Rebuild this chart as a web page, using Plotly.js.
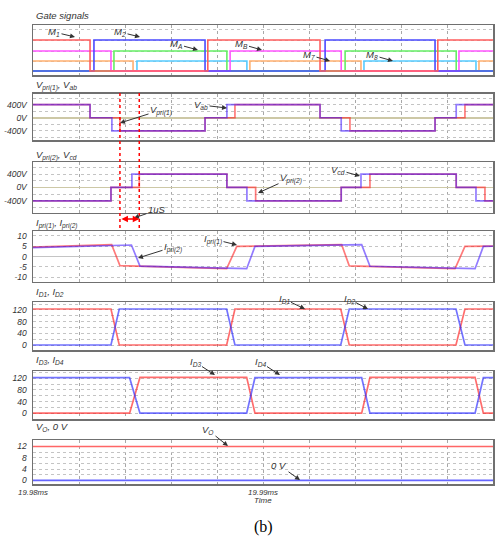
<!DOCTYPE html>
<html><head><meta charset="utf-8">
<script src="https://cdn.plot.ly/plotly-3.0.1.min.js"></script>
<style>html,body{margin:0;padding:0;background:#fff}#c{width:500px;height:538px}</style>
</head><body><div id="c"></div>
<script>
// ---- data (time in µs after 19.98 ms) ----
const timeTickVals = [0, 10, 20];
const timeTickText = ['19.98ms', '19.99ms', '20ms'];

// gate signals: transition times and logic states (hv steps)
const m1T = [0, 2.48, 7.6, 12.48, 17.6, 20];   const m1S = [1,0,1,0,1,1];
const m2T = [0, 2.65, 7.48, 12.7, 17.48, 20];  const m2S = [0,1,0,1,0,0];
const mAT = [0, 3.39, 8.57, 13.4, 18.52, 20];  const mAS = [1,0,1,0,1,1];
const mBT = [0, 3.52, 8.43, 13.57, 18.4, 20];  const mBS = [0,1,0,1,0,0];
const m7T = [0, 4.35, 9.43, 14.26, 19.39, 20]; const m7S = [1,0,1,0,1,1];
const m8T = [0, 4.52, 9.3, 14.39, 19.26, 20];  const m8S = [0,1,0,1,0,0];

// Vab and Vpri(1)
const vabT = [0, 2.48, 3.43, 7.48, 8.43, 12.48, 13.4, 17.48, 18.4, 20];
const vabV = [400, 0, -400, 0, 400, 0, -400, 0, 400, 400];
const vp1T = [0, 2.48, 3.78, 7.48, 8.78, 12.48, 13.78, 17.48, 18.78, 20];
const vp1V = [400, 0, -400, 0, 400, 0, -400, 0, 400, 400];

// Vcd and Vpri(2)
const vcdT = [0, 3.39, 4.3, 8.43, 9.3, 13.4, 14.26, 18.4, 19.26, 20];
const vcdV = [-400, 0, 400, 0, -400, 0, 400, 0, -400, -400];
const vp2T = [0, 3.39, 4.62, 8.43, 9.68, 13.4, 14.65, 18.4, 19.65, 20];
const vp2V = [-400, 0, 400, 0, -400, 0, 400, 0, -400, -400];

// primary currents
const ip1T = [0, 3.42, 3.78, 8.42, 8.86, 13.42, 13.75, 18.35, 18.78, 20];
const ip1V = [4.6, 5.8, -4.4, -5.9, 4.9, 5.8, -4.5, -5.9, 4.9, 5.1];
const ip2T = [0, 3.42, 4.28, 4.65, 8.42, 9.29, 9.65, 13.42, 14.29, 14.65, 18.35, 19.22, 19.58, 20];
const ip2V = [4.3, 5.6, 5.6, -4.6, -5.9, -5.9, 4.9, 5.8, 5.8, -4.7, -5.9, -5.9, 4.9, 5.0];

// diode currents
const id12T = [0, 3.39, 3.75, 8.42, 8.78, 13.38, 13.75, 18.39, 18.78, 20];
const id1V = [123, 123, 0, 0, 123, 123, 0, 0, 123, 123];
const id2V = [0, 0, 123, 123, 0, 0, 123, 123, 0, 0];
const id34T = [0, 4.2, 4.65, 9.29, 9.65, 14.29, 14.65, 19.22, 19.58, 20];
const id3V = [0, 0, 123, 123, 0, 0, 123, 123, 0, 0];
const id4V = [122, 122, 0, 0, 122, 122, 0, 0, 122, 122];

// output voltage and 0 V reference
const voT = [0, 20]; const voV = [12, 12]; const zeroV = [0, 0];

// ---- layout helpers ----
const W = 500, H = 538;
const px = x => x / W, py = y => 1 - y / H;
const FONT = 'Liberation Sans, Arial, sans-serif';
const RED = 'rgba(255,20,20,0.56)', BLUE = 'rgba(60,20,255,0.56)';
const boxes = [[25,75],[93.5,140],[162,212.5],[231,281.7],[302,350],[371,419],[440,484]];

const traces = [];
function add(k, x, y, color, shape, w) {
  traces.push({x: x, y: y, xaxis: 'x'+(k===1?'':k), yaxis: 'y'+(k===1?'':k), type: 'scatter', mode: 'lines',
    line: {color: color, width: w || 1.7, shape: shape || 'linear'}, hoverinfo: 'skip', showlegend: false});
}
function gate(T, S, hi, color) { add(1, T, S.map(s => s ? hi : 0.8), color, 'hv', 1.6); }
gate(m8T, m8S, 2.8, '#55ccff');
gate(m7T, m7S, 2.8, '#ffb070');
gate(mBT, mBS, 4.8, '#66ee66');
gate(mAT, mAS, 4.8, '#ff55ff');
gate(m2T, m2S, 7, '#4a4aff');
gate(m1T, m1S, 7, '#ff5e5e');

add(2, vp1T, vp1V, RED, 'hv');
add(2, vabT, vabV, BLUE, 'hv');
add(3, vp2T, vp2V, RED, 'hv');
add(3, vcdT, vcdV, BLUE, 'hv');
add(4, ip1T, ip1V, RED);
add(4, ip2T, ip2V, BLUE);
add(5, id12T, id1V, 'rgba(255,30,30,0.65)');
add(5, id12T, id2V, 'rgba(40,40,255,0.65)');
add(6, id34T, id3V, 'rgba(255,30,30,0.65)');
add(6, id34T, id4V, 'rgba(40,40,255,0.65)');
add(7, voT, voV, '#ff6666');
add(7, voT, zeroV, '#6666ff');

const layout = {
  width: W, height: H, margin: {l:0, r:0, t:0, b:0},
  paper_bgcolor: '#fff', plot_bgcolor: '#fff', showlegend: false,
  font: {family: FONT, size: 9, color: '#333'},
  annotations: [], shapes: []
};
const tf = {family: FONT, size: 8.5, style: 'italic', color: '#333'};
const yCfg = [
  {range:[0,10], tickvals:[0.8,2.8,4.8,7,9.2], showticklabels:false, minor:{showgrid:false}},
  {range:[-680,740], tickvals:[-400,0,400], ticktext:['-400V','0V','400V'], zeroline:true, zerolinecolor:'#cdc8a6', minor:{tickmode:'linear', tick0:0, dtick:200}},
  {range:[-750,760], tickvals:[-400,0,400], ticktext:['-400V','0V','400V'], zeroline:true, zerolinecolor:'#cdc8a6', minor:{tickmode:'linear', tick0:0, dtick:200}},
  {range:[-12.2,12.4], tickvals:[-10,-5,0,5,10], ticktext:['-10','-5','0','5','10'], zeroline:true, zerolinecolor:'#c4c4c4', minor:{showgrid:false}},
  {range:[-17,147], tickvals:[0,40,80,120], ticktext:['0','40','80','120'], minor:{tickmode:'linear', tick0:0, dtick:20}},
  {range:[-20,145], tickvals:[0,40,80,120], ticktext:['0','40','80','120'], minor:{tickmode:'linear', tick0:0, dtick:20}},
  {range:[-1.3,14.3], tickvals:[0,4,8,12], ticktext:['0','4','8','12'], minor:{tickmode:'linear', tick0:0, dtick:2}}
];
for (let k = 1; k <= 7; k++) {
  const s = k === 1 ? '' : k;
  const b = boxes[k-1];
  layout['xaxis'+s] = {
    domain: [px(33), px(493)], anchor: 'y'+s, range: [0, 20], fixedrange: true,
    tickmode: 'array', tickvals: timeTickVals, ticktext: timeTickText,
    showticklabels: k === 7, ticks: '', ticklabelstandoff: 0, tickfont: {family: FONT, size: 7.8, style: 'italic', color: '#333'},
    showgrid: true, gridcolor: '#a8a8a8', griddash: 'dot', gridwidth: 1,
    minor: {tickmode: 'linear', tick0: 0, dtick: 2, showgrid: true, gridcolor: '#a8a8a8', griddash: 'dot', gridwidth: 1, ticks: ''},
    showline: true, mirror: true, linecolor: '#707070', linewidth: 1.5, zeroline: false
  };
  const c = yCfg[k-1];
  const minor = Object.assign({showgrid: true, gridcolor: '#c4c4c4', griddash: 'dot', gridwidth: 1, ticks: ''}, c.minor);
  const cfg = Object.assign({}, c); delete cfg.minor;
  layout['yaxis'+s] = Object.assign({
    domain: [py(b[1]), py(b[0])], anchor: 'x'+s, fixedrange: true, tickmode: 'array',
    ticks: '', ticklabelstandoff: 3, tickfont: tf,
    showgrid: true, gridcolor: '#c4c4c4', griddash: 'dot', gridwidth: 1, minor: minor,
    showline: true, mirror: true, linecolor: '#707070', linewidth: 1.5, zeroline: false, zerolinewidth: 1.6
  }, cfg);
}

// panel titles
const titles = [
  ['Gate signals', 15], ['V<sub>pri(1)</sub>, V<sub>ab</sub>', 85], ['V<sub>pri(2)</sub>, V<sub>cd</sub>', 155],
  ['I<sub>pri(1)</sub>, I<sub>pri(2)</sub>', 223], ['I<sub>D1</sub>, I<sub>D2</sub>', 292],
  ['I<sub>D3</sub>, I<sub>D4</sub>', 360], ['V<sub>O</sub>, 0 V', 427]
];
titles.forEach(t => layout.annotations.push({text: t[0], xref:'paper', yref:'paper', x: px(34), y: py(t[1]),
  xanchor:'left', yanchor:'middle', showarrow:false, font:{family:FONT, size:9.5, style:'italic', color:'#333'}}));

// trace labels with arrows: [text, textX, textY, headX, headY]
const labels = [
  ['M<sub>1</sub>', 54, 32, 75, 37], ['M<sub>2</sub>', 120, 32, 140, 37],
  ['M<sub>A</sub>', 176, 44, 198, 50], ['M<sub>B</sub>', 241, 44, 262, 50],
  ['M<sub>7</sub>', 309, 55, 330, 61], ['M<sub>8</sub>', 372, 55, 393, 61],
  ['V<sub>pri(1)</sub>', 161, 110, 120, 123], ['V<sub>ab</sub>', 201, 105, 227, 108],
  ['V<sub>pri(2)</sub>', 291, 178, 258, 193], ['V<sub>cd</sub>', 338, 170, 360, 176],
  ['1uS', 157, 210, 134, 218],
  ['I<sub>pri(2)</sub>', 173, 247, 138, 258], ['I<sub>pri(1)</sub>', 213, 239, 237, 245],
  ['I<sub>D1</sub>', 284, 299, 305, 309], ['I<sub>D2</sub>', 349, 299, 368, 309],
  ['I<sub>D3</sub>', 195, 362, 215, 375], ['I<sub>D4</sub>', 260, 362, 280, 375],
  ['V<sub>O</sub>', 208, 430, 228, 446], ['0 V', 279, 465, 300, 480]
];
labels.forEach(l => layout.annotations.push({text: l[0], xref:'paper', yref:'paper', x: px(l[3]), y: py(l[4]),
  ax: l[1]-l[3], ay: l[2]-l[4], showarrow:true, arrowhead:2, arrowsize:1, arrowwidth:1, arrowcolor:'#333',
  standoff:0, font:{family:FONT, size:9.5, style:'italic', color:'#333'}}));

// 1 µs markers between Vpri(1) and Vpri(2) transitions
[vp1T[2], vp2T[2]].forEach(t => layout.shapes.push({type:'line', xref:'x2', yref:'paper', x0:t, x1:t,
  y0: py(228), y1: py(90), line:{color:'#ff0000', width:1.5, dash:'dot'}}));
layout.annotations.push({text:'', xref:'x3', yref:'paper', x: vp2T[2], y: py(219), axref:'x3', ax: vp1T[2],
  ayref:'pixel', ay:0, showarrow:true, arrowhead:2, arrowside:'end+start', arrowsize:1, arrowwidth:1.3, arrowcolor:'#ff0000', standoff:0, startstandoff:0});

layout.annotations.push({text:'Time', xref:'paper', yref:'paper', x: px(263), y: py(501), yanchor:'middle', showarrow:false,
  borderpad:0, font:{family:FONT, size:8, style:'italic', color:'#333'}});
layout.annotations.push({text:'(b)', xref:'paper', yref:'paper', x: px(263), y: py(527), yanchor:'middle', showarrow:false,
  borderpad:0, font:{family:'Liberation Serif, Times New Roman, serif', size:16, color:'#000'}});

Plotly.newPlot('c', traces, layout, {staticPlot:true, displayModeBar:false});
</script></body></html>
